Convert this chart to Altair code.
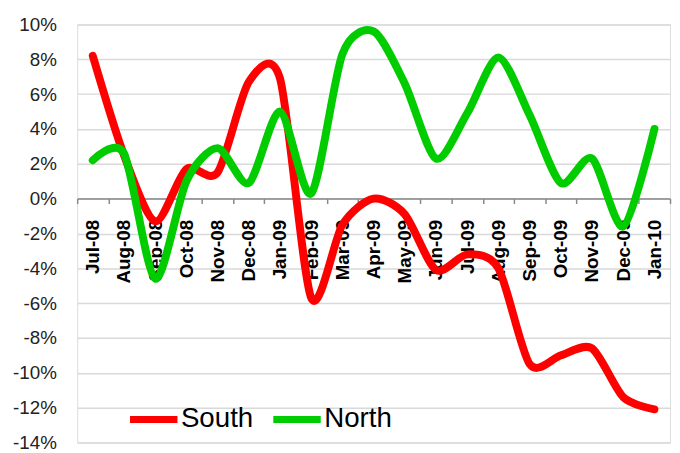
import altair as alt
import pandas as pd

months = ["Jul-08", "Aug-08", "Sep-08", "Oct-08", "Nov-08", "Dec-08", "Jan-09",
          "Feb-09", "Mar-09", "Apr-09", "May-09", "Jun-09", "Jul-09", "Aug-09",
          "Sep-09", "Oct-09", "Nov-09", "Dec-09", "Jan-10"]
south = [8.2, 2.5, -1.3, 1.7, 1.5, 6.7, 6.9, -5.7, -1.5, 0.0, -0.9, -4.1,
         -3.2, -4.0, -9.5, -9.0, -8.6, -11.4, -12.1]
north = [2.2, 2.6, -4.6, 1.0, 2.9, 0.9, 5.0, 0.3, 8.3, 9.6, 6.6, 2.3,
         4.9, 8.1, 4.8, 0.9, 2.3, -1.6, 4.0]
y_ticks = [-14, -12, -10, -8, -6, -4, -2, 0, 2, 4, 6, 8, 10]
series_names = ["South", "North"]
series_colors = ["#ff0000", "#00cc00"]

df = pd.DataFrame({
    "month": months * 2,
    "value": south + north,
    "series": ["South"] * len(months) + ["North"] * len(months),
})

FONT = "Liberation Sans"
H = 423
zero_from_bottom = H * (0 - (-14)) / 24.0

x_enc = alt.X(
    "month:N", sort=months,
    scale=alt.Scale(type="band", paddingInner=0, paddingOuter=0),
    axis=alt.Axis(
        title=None, labelAngle=-90, labelFont=FONT, labelFontSize=19,
        labelFontWeight="bold", labelColor="#000000", labelPadding=16,
        domainColor="#898989", domainWidth=1.5, tickColor="#898989",
        tickWidth=1.5, tickSize=5, tickBand="extent",
        offset=-zero_from_bottom, grid=False, labelOverlap=False,
    ),
)
y_enc = alt.Y(
    "value:Q",
    scale=alt.Scale(domain=[-14, 10], nice=False, zero=False),
    axis=alt.Axis(
        title=None, values=y_ticks, labelExpr="datum.value + '%'",
        labelFont=FONT, labelFontSize=19, labelColor="#222222",
        labelPadding=21, domain=False, ticks=False, grid=True,
        gridColor="#d9d9d9", gridWidth=1.5,
    ),
)
color_enc = alt.Color(
    "series:N",
    scale=alt.Scale(domain=series_names, range=series_colors),
    legend=alt.Legend(
        title=None, orient="none", direction="horizontal",
        legendX=50, legendY=372, symbolType="stroke", symbolSize=2304,
        symbolStrokeWidth=7, labelFont=FONT, labelFontSize=28,
        labelColor="#000000", labelOffset=0, columnPadding=5,
    ),
)

base = alt.Chart(df).mark_line(
    interpolate="cardinal", tension=0.2, strokeWidth=8, strokeCap="round",
    strokeJoin="round",
).encode(x=x_enc, y=y_enc, color=color_enc)

south_line = base.transform_filter(alt.datum.series == "South")
north_line = base.transform_filter(alt.datum.series == "North")

chart = alt.layer(south_line, north_line).properties(
    width=600, height=H, autosize="none",
    padding={"left": 70, "top": 14, "right": 2, "bottom": 5},
).configure_view(stroke=None).configure(background="white")

chart.save("out.html", embed_options={"renderer": "svg", "actions": False})
